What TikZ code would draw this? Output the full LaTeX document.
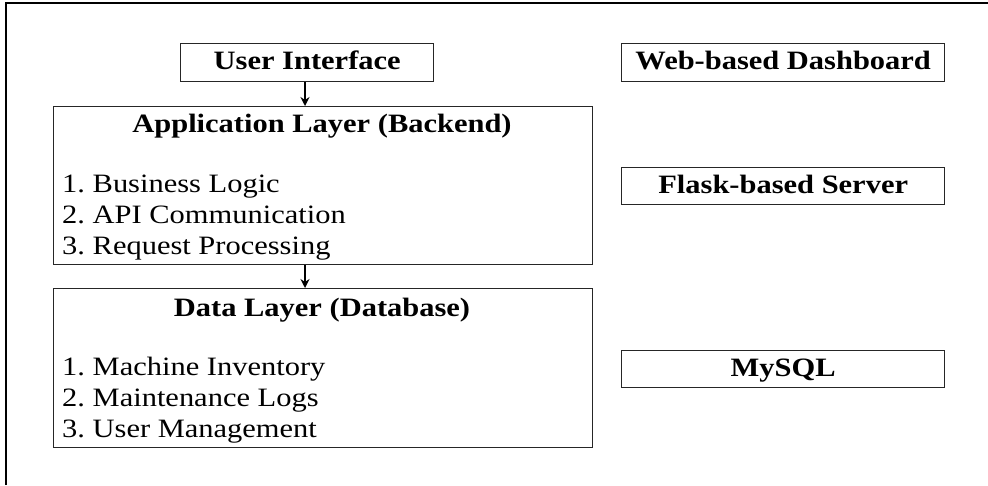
\documentclass[tikz,border=0pt]{standalone}
\usepackage{fontspec}
\setmainfont{Liberation Serif}[FakeStretch=1.15]
\usetikzlibrary{arrows.meta}
\begin{document}
\frenchspacing
\begin{tikzpicture}[x=1pt,y=-1pt,
  box/.style={draw=black!85, line width=1.4pt, rectangle, inner sep=0pt, anchor=north west},
  ttl/.style={font=\fontsize{26.5}{30}\selectfont\bfseries, inner sep=0pt, anchor=base},
  itm/.style={font=\fontsize{26.5}{30}\selectfont, inner sep=0pt, anchor=base west},
  conn/.style={line width=2pt, -{Stealth[length=9pt,width=9pt]}}]
\useasboundingbox (0,0) rectangle (988,485);
\coordinate (fa) at (6,485);
\coordinate (fb) at (6,3);
\coordinate (fc) at (988,3);
\draw[line width=2pt] (fa) -- (fb) -- (fc);
% left column
\node[box, minimum width=253pt, minimum height=38pt] (ui) at (180,43) {};
\node[ttl] (uit) at ([yshift=-7pt]ui.center) {User Interface};
\node[box, minimum width=539pt, minimum height=158pt] (app) at (53,106) {};
\node[ttl] (appt) at (322,132) {Application Layer (Backend)};
\node[itm] (app1) at (62,192) {1. Business Logic};
\node[itm] (app2) at (62,223) {2. API Communication};
\node[itm] (app3) at (62,254) {3. Request Processing};
\node[box, minimum width=539pt, minimum height=159pt] (data) at (53,288) {};
\node[ttl] (datat) at (322,316) {Data Layer (Database)};
\node[itm] (data1) at (62,375) {1. Machine Inventory};
\node[itm] (data2) at (62,406) {2. Maintenance Logs};
\node[itm] (data3) at (62,437) {3. User Management};
\draw[conn] (ui.south -| 305,0) -- (app.north -| 305,0);
\draw[conn] (app.south -| 305,0) -- (data.north -| 305,0);
% right column
\node[box, minimum width=323pt, minimum height=38pt] (web) at (621,43) {};
\node[ttl] (webt) at ([yshift=-7pt]web.center) {Web-based Dashboard};
\node[box, minimum width=323pt, minimum height=37pt] (flask) at (621,167) {};
\node[ttl] (flaskt) at ([yshift=-7.5pt]flask.center) {Flask-based Server};
\node[box, minimum width=323pt, minimum height=37pt] (sql) at (621,350) {};
\node[ttl] (sqlt) at ([yshift=-7.5pt]sql.center) {MySQL};
\end{tikzpicture}
\end{document}
